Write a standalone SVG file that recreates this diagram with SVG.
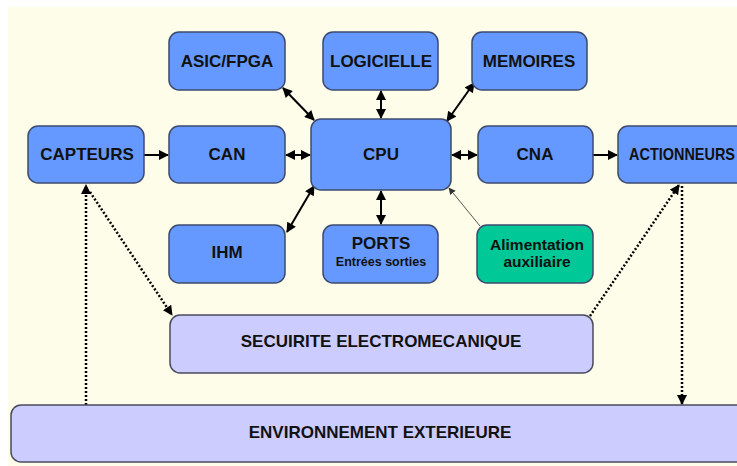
<svg xmlns="http://www.w3.org/2000/svg" width="737" height="466" viewBox="0 0 737 466">
<style>
.b{fill:#6699ff;stroke:#3d4a6e;stroke-width:1.5}
.l{fill:#ccccff;stroke:#4a4a5e;stroke-width:1.5}
.g{fill:#00c896;stroke:#3d4a6e;stroke-width:1.5}
text{font-family:"Liberation Sans",Arial,sans-serif;font-weight:bold;fill:#111;text-anchor:middle}
.t{font-size:17px}
.c{stroke:#000;stroke-width:2;fill:none}
.d{stroke:#000;stroke-width:2.5;fill:none;stroke-dasharray:2 2}
</style>
<defs>
<marker id="ah" viewBox="0 0 10 10" refX="9" refY="5" markerWidth="5.5" markerHeight="5" orient="auto-start-reverse" markerUnits="strokeWidth"><path d="M0,0L10,5L0,10z" fill="#000"/></marker>
<marker id="ad" viewBox="0 0 10 10" refX="9" refY="5" markerWidth="4.2" markerHeight="4" orient="auto-start-reverse" markerUnits="strokeWidth"><path d="M0,0L10,5L0,10z" fill="#000"/></marker>
<marker id="ag" viewBox="0 0 10 10" refX="9" refY="5" markerWidth="7" markerHeight="7" orient="auto" markerUnits="strokeWidth"><path d="M0,0L10,5L0,10z" fill="#333"/></marker>
</defs>
<rect x="0" y="0" width="737" height="466" fill="#ffffff"/>
<rect x="8" y="7" width="729" height="459" fill="#fefde9"/>
<g id="connectors">
<line class="c" x1="144" y1="155" x2="168" y2="155" marker-end="url(#ah)"/>
<line class="c" x1="286" y1="155" x2="310" y2="155" marker-start="url(#ah)" marker-end="url(#ah)"/>
<line class="c" x1="452" y1="155" x2="477" y2="155" marker-start="url(#ah)" marker-end="url(#ah)"/>
<line class="c" x1="593" y1="155" x2="617" y2="155" marker-end="url(#ah)"/>
<line class="c" x1="283" y1="88" x2="314" y2="120" marker-start="url(#ah)" marker-end="url(#ah)"/>
<line class="c" x1="381" y1="91" x2="381" y2="118" marker-start="url(#ah)" marker-end="url(#ah)"/>
<line class="c" x1="474" y1="83" x2="447" y2="121" marker-start="url(#ah)" marker-end="url(#ah)"/>
<line class="c" x1="287" y1="232" x2="314" y2="186" marker-start="url(#ah)" marker-end="url(#ah)"/>
<line class="c" x1="381" y1="191" x2="381" y2="224" marker-start="url(#ah)" marker-end="url(#ah)"/>
<line x1="480" y1="226" x2="449" y2="188" stroke="#555" stroke-width="1" marker-end="url(#ag)"/>
<line class="d" x1="86" y1="405" x2="86" y2="185" marker-end="url(#ad)"/>
<line class="d" x1="90" y1="192" x2="172" y2="315" marker-end="url(#ad)"/>
<line class="d" x1="590" y1="316" x2="679" y2="185" marker-end="url(#ad)"/>
<line class="d" x1="682" y1="186" x2="682" y2="404" marker-end="url(#ad)"/>
</g>
<g id="asic"><rect class="b" x="169" y="32" width="116" height="58" rx="10"/><text class="t" x="227" y="67">ASIC/FPGA</text></g>
<g id="logicielle"><rect class="b" x="323" y="32" width="115" height="58" rx="10"/><text class="t" x="381" y="67">LOGICIELLE</text></g>
<g id="memoires"><rect class="b" x="472" y="32" width="115" height="58" rx="10"/><text class="t" x="529" y="67">MEMOIRES</text></g>
<g id="capteurs"><rect class="b" x="28" y="126" width="116" height="57" rx="10"/><text class="t" x="87" y="160">CAPTEURS</text></g>
<g id="can"><rect class="b" x="169" y="126" width="116" height="57" rx="10"/><text class="t" x="227" y="160">CAN</text></g>
<g id="cpu"><rect class="b" x="311" y="119" width="140" height="71" rx="10"/><text class="t" x="381" y="160">CPU</text></g>
<g id="cna"><rect class="b" x="478" y="126" width="115" height="57" rx="10"/><text class="t" x="535" y="160">CNA</text></g>
<g id="actionneurs"><rect class="b" x="618" y="126" width="140" height="57" rx="10"/><text class="t" x="629" y="160" style="text-anchor:start" textLength="106" lengthAdjust="spacingAndGlyphs">ACTIONNEURS</text></g>
<g id="ihm"><rect class="b" x="169" y="225" width="116" height="58" rx="10"/><text class="t" x="227" y="258">IHM</text></g>
<g id="ports"><rect class="b" x="323" y="225" width="115" height="58" rx="10"/><text class="t" x="381" y="249">PORTS</text><text x="381" y="266" font-size="12.5">Entrées sorties</text></g>
<g id="alimentation"><rect class="g" x="477" y="225" width="116" height="58" rx="10"/><text x="537" y="250" font-size="15.5">Alimentation</text><text x="537" y="267" font-size="15.5">auxiliaire</text></g>
<g id="securite"><rect class="l" x="170" y="315" width="423" height="58" rx="10"/><text class="t" x="381" y="347">SECUIRITE ELECTROMECANIQUE</text></g>
<g id="environnement"><rect class="l" x="11" y="405" width="760" height="57" rx="10"/><text class="t" x="380" y="438">ENVIRONNEMENT EXTERIEURE</text></g>
</svg>
